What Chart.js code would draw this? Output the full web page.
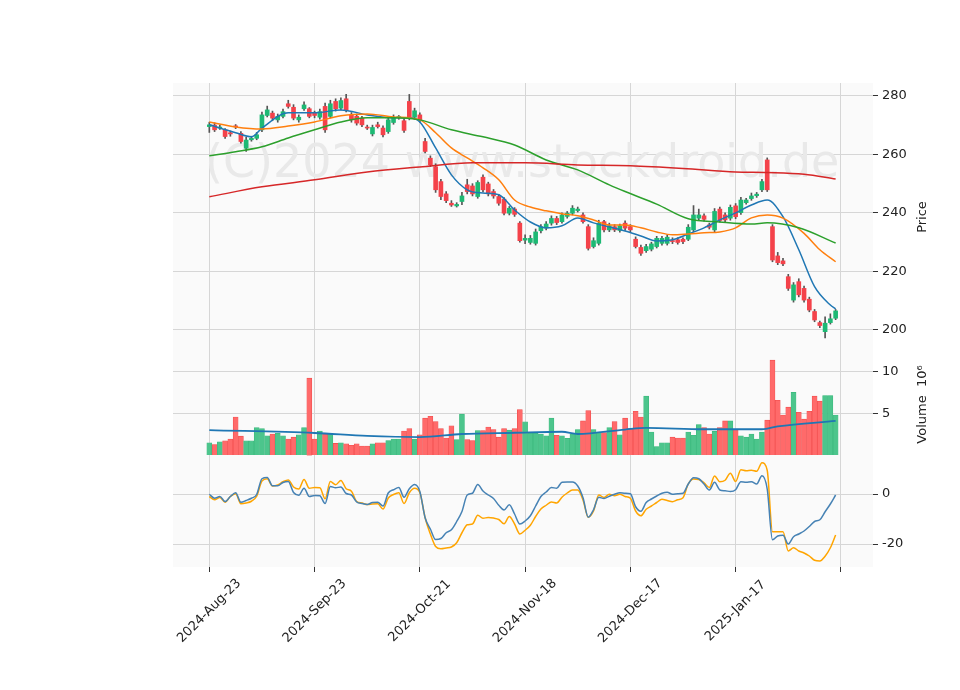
<!DOCTYPE html>
<html>
<head>
<meta charset="utf-8">
<script src="https://cdn.jsdelivr.net/npm/chart.js@4"></script>
<style>
  body { margin: 0; background: #fff; }
  .pane { position: absolute; left: 173px; }
</style>
</head>
<body>
<canvas id="priceChart" class="pane" style="top:83px" width="760" height="268"></canvas>
<canvas id="volChart" class="pane" style="top:351px" width="760" height="107"></canvas>
<canvas id="oscChart" class="pane" style="top:458px;left:100px" width="833" height="232"></canvas>
<script>
// daily candles, one per trading day (index 0 = 2024-08-23)
const open = [269.5,270.0,269.0,268.4,267.4,269.6,267.2,262.1,265.0,265.5,
268.4,273.3,274.1,271.8,273.0,277.3,276.1,271.8,275.6,275.6,
274.1,272.7,276.4,273.0,278.1,275.8,279.0,273.6,273.0,272.4,
269.2,267.0,270.1,269.0,267.8,270.9,272.6,271.5,278.1,272.7,
273.5,264.4,258.7,255.8,250.7,246.5,243.3,242.4,243.9,249.6,
249.2,245.6,252.2,249.9,247.3,245.6,244.7,239.9,241.3,236.5,
230.7,229.9,229.6,233.9,234.8,236.5,238.1,237.0,238.8,239.9,
240.8,239.3,235.3,228.5,229.6,237.0,234.2,235.3,234.0,236.5,
235.3,231.0,228.2,227.1,227.6,228.5,229.6,229.6,230.3,230.8,
231.0,231.0,234.2,238.2,239.0,235.9,234.2,241.3,239.3,238.2,
242.4,240.1,243.5,244.9,245.9,247.9,258.1,235.3,225.3,223.6,
218.2,210.2,216.5,214.2,210.5,206.3,202.5,199.4,202.5,204.0];
const close = [270.1,268.4,269.3,266.1,267.0,269.4,264.4,264.9,265.5,266.7,
273.5,275.2,272.4,273.0,274.6,276.4,272.4,272.7,276.9,273.0,
273.3,274.6,268.4,277.3,275.6,278.4,275.0,271.8,270.7,270.1,
269.0,269.2,269.5,266.7,271.8,272.4,272.6,268.2,272.4,274.9,
271.8,261.0,256.4,247.9,245.6,244.2,242.7,242.9,245.8,247.3,
246.5,250.4,247.9,246.5,245.8,243.3,239.9,241.6,239.5,230.5,
231.3,231.3,233.5,235.3,236.2,238.1,236.7,239.3,239.9,241.6,
241.3,237.0,227.9,230.5,236.5,234.2,235.6,234.2,235.6,234.8,
234.2,228.5,226.2,228.5,229.4,231.3,231.3,231.7,230.2,229.9,
230.2,235.1,239.3,239.3,237.8,235.1,240.5,237.4,237.6,241.9,
238.7,244.4,244.4,245.8,246.4,250.7,247.9,223.9,223.0,222.6,
214.2,215.4,212.0,210.2,206.8,203.4,201.5,202.3,203.8,206.5];
const high = [271,270.8,270,268.8,268,270.2,267.8,265.8,266.2,267.5,
274.5,276.5,274.8,273.8,275.5,278.5,277,273.5,278,276,
274.8,275.5,277.5,278.5,279,279.3,280.5,274.3,273.8,273,
270,270,271,269.8,272.5,273.5,273.3,272.3,280.5,275.8,
274.2,265.5,259.5,256.8,251.5,247.3,244.2,243.5,247,251.5,
250,251,253,250.5,248,246.3,245.2,242.2,241.8,237,
232.5,232.3,234.5,236,237,239,238.8,240,240.5,242.5,
242,240,236,231.5,237.5,237.5,236.5,236,236.2,237.3,
236,231.8,229,229.3,230,232,232,232.5,231.5,231.5,
231.5,236,242.5,241.3,239.7,236.5,241.5,242,240,242.7,
243.2,245.3,245,246.8,247,251.5,258.8,236,226.5,224.5,
219,216.2,217.5,215,211.2,207,203,204.5,205.5,207];
const low = [267.5,267.8,268.5,265.5,266.2,268.8,263.8,261,264.5,265,
267.8,272.8,271.5,271,272.5,275.8,271.8,271,275,272.5,
272.5,272,267.5,272.5,274.8,275.2,274.5,271,270,269.5,
268.5,266.3,269,266,267.2,270.3,272,267.5,271.8,272,
271,260.5,255.8,247,244.5,243.5,242.2,242,242.8,246.5,
245.8,245,247.2,245.8,245,242.6,239.3,239.3,238.8,230,
229.5,229.3,229,233.2,234.2,235.8,236,236.5,238.2,239.3,
240.3,236.5,227.3,228,229,233.5,233.6,233.6,233.4,234,
233.5,228,225.5,226.5,227,228,229,229,229.5,229.3,
229.5,230.5,233.5,237.5,237.2,234.5,233.5,236.8,236.8,237.5,
238,239.5,243,244.3,245.3,247.3,247.3,223.3,222.3,222,
213.5,209.5,211.3,209.5,206.2,202.8,200.8,197.3,202,203.5];
// volume in millions
const volume = [1.48,1.26,1.59,1.70,1.93,4.57,2.27,1.70,1.70,3.29,
3.18,2.31,2.53,2.61,2.31,1.93,2.15,2.42,3.29,9.24,
1.93,2.88,2.53,2.61,1.40,1.48,1.36,1.17,1.36,1.09,
1.09,1.36,1.48,1.48,1.74,1.93,1.93,2.88,3.18,1.93,
2.42,4.43,4.66,4.02,3.18,2.04,3.52,1.85,4.92,1.85,
1.74,2.95,2.95,3.37,3.07,2.15,3.18,3.0,3.18,5.45,
3.98,2.61,2.61,2.53,2.31,4.43,2.38,2.31,2.0,2.53,
3.07,4.1,5.33,3.07,2.69,2.69,3.29,4.02,2.42,4.43,
3.18,5.26,4.57,7.08,2.76,1.02,1.48,1.48,2.15,2.04,
2.04,2.76,2.38,3.67,3.29,2.53,2.84,3.29,4.1,4.1,
3.07,2.31,2.15,2.53,1.93,2.76,4.2,11.4,6.58,4.81,
5.76,7.53,5.14,4.31,5.26,7.08,6.48,7.16,7.16,4.81];

// moving averages at sample days
const maFastDay = [0,5,8,10,15,20,25,30,35,38,40,43,46,49,52,55,58,61,64,67,70,73,76,79,82,85,88,91,94,97,100,103,106,109,112,115,118,119];
const maFast = [270.1,267.4,266,269,274.2,274.2,275.2,273.5,272.5,272.5,271.1,262.2,253,247.9,246.8,246.2,241,236.9,234.9,235.6,238.3,236.6,235.2,233.8,232.1,230.4,230.8,232.8,234.9,237.6,240,242.7,244.4,238.7,227.4,214.8,208.5,207.2];
const maMidDay = [0,5,10,15,20,25,30,35,40,43,46,49,52,55,58,61,64,67,70,73,76,79,82,85,88,91,94,97,100,103,106,109,113,116,119];
const maMid = [271.1,269.4,268.7,269.7,271.1,273.2,273.8,272.8,271.8,267.4,262.2,258.8,255.4,251.3,244.4,242,240.7,239.7,239,237.6,235.9,235.9,234.9,233.5,232.5,232.8,233.2,233.5,234.9,238.3,239.3,238.2,233,227.4,223.3];
const maSlowDay = [0,5,10,15,20,25,30,35,40,46,52,58,64,70,76,79,85,91,97,103,106,112,119];
const maSlow = [259.5,260.9,262.6,265.6,268.4,271.1,272.5,272.5,271.8,268.4,266,263.2,258.1,254.7,249.6,247.3,243,238,236.9,236.2,236.6,234.9,229.7];
const maLongDay = [0,10,20,30,40,50,60,70,80,90,100,106,113,119];
const maLong = [245.5,248.9,251.3,254,255.7,257.1,257.1,256.4,256.1,255.2,254,253.8,253.2,251.6];
const volMaDay = [0,20,30,40,48,58,67,70,79,83,94,105,108,119];
const volMa = [3.0,2.65,2.3,2.16,2.53,2.68,2.8,2.53,3.07,3.26,3.1,3.1,3.45,4.1];

// oscillator lines, one value per day
const oscA = [-0.1,-1.7,-1.0,-3,-1,0.5,-3.3,-2.6,-1.7,-0.2,
6.1,6.6,3.3,3.3,4.6,5.0,0.6,-0.5,2.3,-1.0,
-0.6,-0.7,-3.8,3.0,2.5,2.8,0.2,-0.4,-3.2,-3.8,
-4.2,-3.4,-3.3,-4.8,0.4,1.7,2.6,-1.3,2.1,3.8,
1.0,-9.5,-14,-18.2,-17.8,-15.5,-14.3,-11,-7,-0.4,
0.3,3.8,1.2,-0.4,-1.8,-4.5,-6.4,-4.3,-8,-12,
-10.8,-8.7,-4.8,-1,0.8,2.6,2.3,4.7,4.8,4.8,
3.2,-1.5,-9.3,-6.3,-1.3,-1.8,-0.9,-0.1,0.5,0.3,
0.1,-5.1,-6.9,-3.4,-2.0,-0.8,0.3,0.7,-0.1,0.1,
0.3,4.0,6.5,6.1,4.0,1.6,4.7,1.6,1.3,1.0,
1.7,4.9,4.7,4.9,4.0,7.3,2,-18.3,-16.8,-16.5,
-20,-17.1,-16,-14.8,-13,-11,-10.3,-7.1,-4,-0.4];
const oscB = [-1,-2.3,-1.4,-3.3,-1.0,0.1,-3.9,-3.6,-2.9,-0.9,
5.2,6.1,3.2,3.6,4.9,5.6,2.8,2.0,5.8,2.3,
2.6,2.5,-1.9,5.0,3.7,5.4,2.1,1.1,-3.0,-3.6,
-4.2,-4.0,-3.9,-6.0,-1.6,-0.2,0.5,-3.8,0.5,2.3,
0.6,-9.5,-16,-21,-21.9,-21.6,-21.2,-19.5,-15.5,-12.3,
-12,-8.5,-9.7,-9.4,-9.6,-10.2,-11.9,-9,-12,-16,
-14.5,-12.5,-9,-6,-4.5,-3.2,-3.6,-1.3,0.4,1.6,
1.6,-2.4,-9.3,-6.8,-0.4,-1.4,-0.1,-0.7,-0.1,-1.0,
-1.7,-6.8,-8.7,-6.1,-4.8,-3.4,-2.1,-2.6,-3.1,-2.3,
-1.5,4.0,6.0,5.8,4.5,2.6,7.2,4.9,5.5,8.3,
5.0,9.7,9.3,9.5,9.1,12.5,9.5,-15.1,-15.1,-15.1,
-22.8,-21.5,-22.8,-23.6,-24.8,-26.5,-26.8,-24.9,-21.5,-16.4];

const tickDays = [0,20,40,60,80,100,120];
const tickLabels = ["2024-Aug-23","2024-Sep-23","2024-Oct-21","2024-Nov-18","2024-Dec-17","2025-Jan-17",""];

const GREEN = "#1db974", RED = "#f4424a";
const VGREEN = "#4cc58c", VRED = "#ff6a6a";
const gridColor = "#d6d6d6";
const font = { family: "DejaVu Sans", size: 13 };

const up = open.map((o, i) => close[i] >= o);
const pts = (xs, ys) => xs.map((x, i) => ({ x: x, y: ys[i] }));

const bgPlugin = {
  id: "bg",
  beforeDraw(chart) {
    const a = chart.chartArea, ctx = chart.ctx;
    ctx.save();
    ctx.fillStyle = "#fafafa";
    ctx.fillRect(a.left, a.top, a.right - a.left, a.bottom - a.top);
    ctx.restore();
  }
};
const markPlugin = {
  id: "mark",
  beforeDatasetsDraw(chart) {
    const ctx = chart.ctx;
    ctx.save();
    ctx.font = "46px DejaVu Sans";
    ctx.fillStyle = "#e9e9e9";
    ctx.textBaseline = "middle";
    ctx.fillText("(C)2024 www.stockdroid.de", 32, 82);
    ctx.restore();
  }
};
// y axis title reading bottom-to-top, as in the original
const titlePlugin = {
  id: "ytitle",
  afterDraw(chart, args, opts) {
    if (!opts.text) return;
    const ctx = chart.ctx, a = chart.chartArea;
    ctx.save();
    ctx.translate(a.right + 50, (a.top + a.bottom) / 2);
    ctx.rotate(-Math.PI / 2);
    ctx.font = "13px DejaVu Sans";
    ctx.fillStyle = "#222";
    ctx.textAlign = "center";
    ctx.textBaseline = "middle";
    ctx.fillText(opts.text, 0, 0);
    ctx.restore();
  }
};
// date labels rotated 45 degrees and centred under their tick
const dateLabelPlugin = {
  id: "dates",
  afterDraw(chart) {
    const ctx = chart.ctx, xs = chart.scales.x, a = chart.chartArea;
    ctx.save();
    ctx.font = "13px DejaVu Sans";
    ctx.fillStyle = "#222";
    ctx.textAlign = "center";
    ctx.textBaseline = "middle";
    tickDays.forEach((d, i) => {
      if (!tickLabels[i]) return;
      ctx.save();
      ctx.translate(xs.getPixelForValue(d), a.bottom + 44);
      ctx.rotate(-Math.PI / 4);
      ctx.fillText(tickLabels[i], 0, 0);
      ctx.restore();
    });
    ctx.restore();
  }
};

const noPad = s => { s.paddingLeft = 0; s.paddingRight = 0; s.paddingTop = 0; s.paddingBottom = 0; };

function xScale(bottom) {
  return {
    type: "linear", min: -6.9, max: 126.1, offset: false,
    afterBuildTicks: s => { s.ticks = tickDays.map(v => ({ value: v })); },
    afterFit: s => { s.height = bottom ? 123 : 0; noPad(s); },
    grid: { color: gridColor, offset: false, drawTicks: bottom, tickLength: 5, tickColor: "#333" },
    border: { display: false },
    ticks: { display: false }
  };
}
function yScale(min, max, vals) {
  return {
    position: "right", min: min, max: max,
    afterBuildTicks: s => { s.ticks = vals.map(v => ({ value: v })); },
    afterFit: s => { s.width = 60; noPad(s); },
    grid: { color: gridColor, tickLength: 5, tickColor: "#333" },
    border: { display: false },
    ticks: { color: "#222", font: font, padding: 4 }
  };
}
const opts = (scales, title, left) => ({
  responsive: false, animation: false,
  layout: { padding: { left: left || 0, right: 0, top: 0, bottom: 0 }, autoPadding: false },
  plugins: { legend: { display: false }, tooltip: { enabled: false }, ytitle: { text: title } },
  scales: scales
});
const line = (data, color, w) => ({
  type: "line", data: data, borderColor: color, borderWidth: w || 1.5,
  pointRadius: 0, tension: 0.4, cubicInterpolationMode: "monotone", fill: false
});

new Chart(document.getElementById("priceChart"), {
  data: {
    datasets: [
      { type: "bar", grouped: false, barThickness: 1, order: 2,
        data: open.map((o, i) => ({ x: i, y: [low[i], high[i]] })),
        backgroundColor: "#555" },
      { type: "bar", grouped: false, barThickness: 4, minBarLength: 1, order: 1,
        data: open.map((o, i) => ({ x: i, y: [o, close[i]] })),
        backgroundColor: up.map(u => u ? GREEN : RED) },
      Object.assign(line(pts(maLongDay, maLong), "#d62728"), { order: 0 }),
      Object.assign(line(pts(maSlowDay, maSlow), "#2ca02c"), { order: 0 }),
      Object.assign(line(pts(maMidDay, maMid), "#ff7f0e"), { order: 0 }),
      Object.assign(line(pts(maFastDay, maFast), "#1f77b4"), { order: 0 })
    ]
  },
  options: opts({ x: xScale(false), y: yScale(192.8, 284.4, [200, 220, 240, 260, 280]) }, "Price"),
  plugins: [bgPlugin, markPlugin, titlePlugin]
});

new Chart(document.getElementById("volChart"), {
  data: {
    datasets: [
      Object.assign(line(pts(volMaDay, volMa), "#1f77b4", 1.8), { order: 0 }),
      { type: "bar", grouped: false, barThickness: 5, order: 1,
        data: volume.map((v, i) => ({ x: i, y: v })),
        backgroundColor: up.map(u => u ? VGREEN : VRED),
        borderColor: up.map(u => u ? "#3bb87c" : "#f04a4a"), borderWidth: 0.6 }
    ]
  },
  options: opts({ x: xScale(false), y: yScale(-0.35, 12.5, [5, 10]) }, "Volume  10\u2076"),
  plugins: [bgPlugin, titlePlugin]
});

new Chart(document.getElementById("oscChart"), {
  data: {
    datasets: [
      Object.assign(line(oscA.map((v, i) => ({ x: i, y: v })), "#4682b4"), { tension: 0 }),
      Object.assign(line(oscB.map((v, i) => ({ x: i, y: v })), "#ffa500"), { tension: 0 })
    ]
  },
  options: opts({ x: xScale(true), y: yScale(-29.2, 14.4, [-20, 0]) }, "", 73),
  plugins: [bgPlugin, titlePlugin, dateLabelPlugin]
});
</script>
</body>
</html>
